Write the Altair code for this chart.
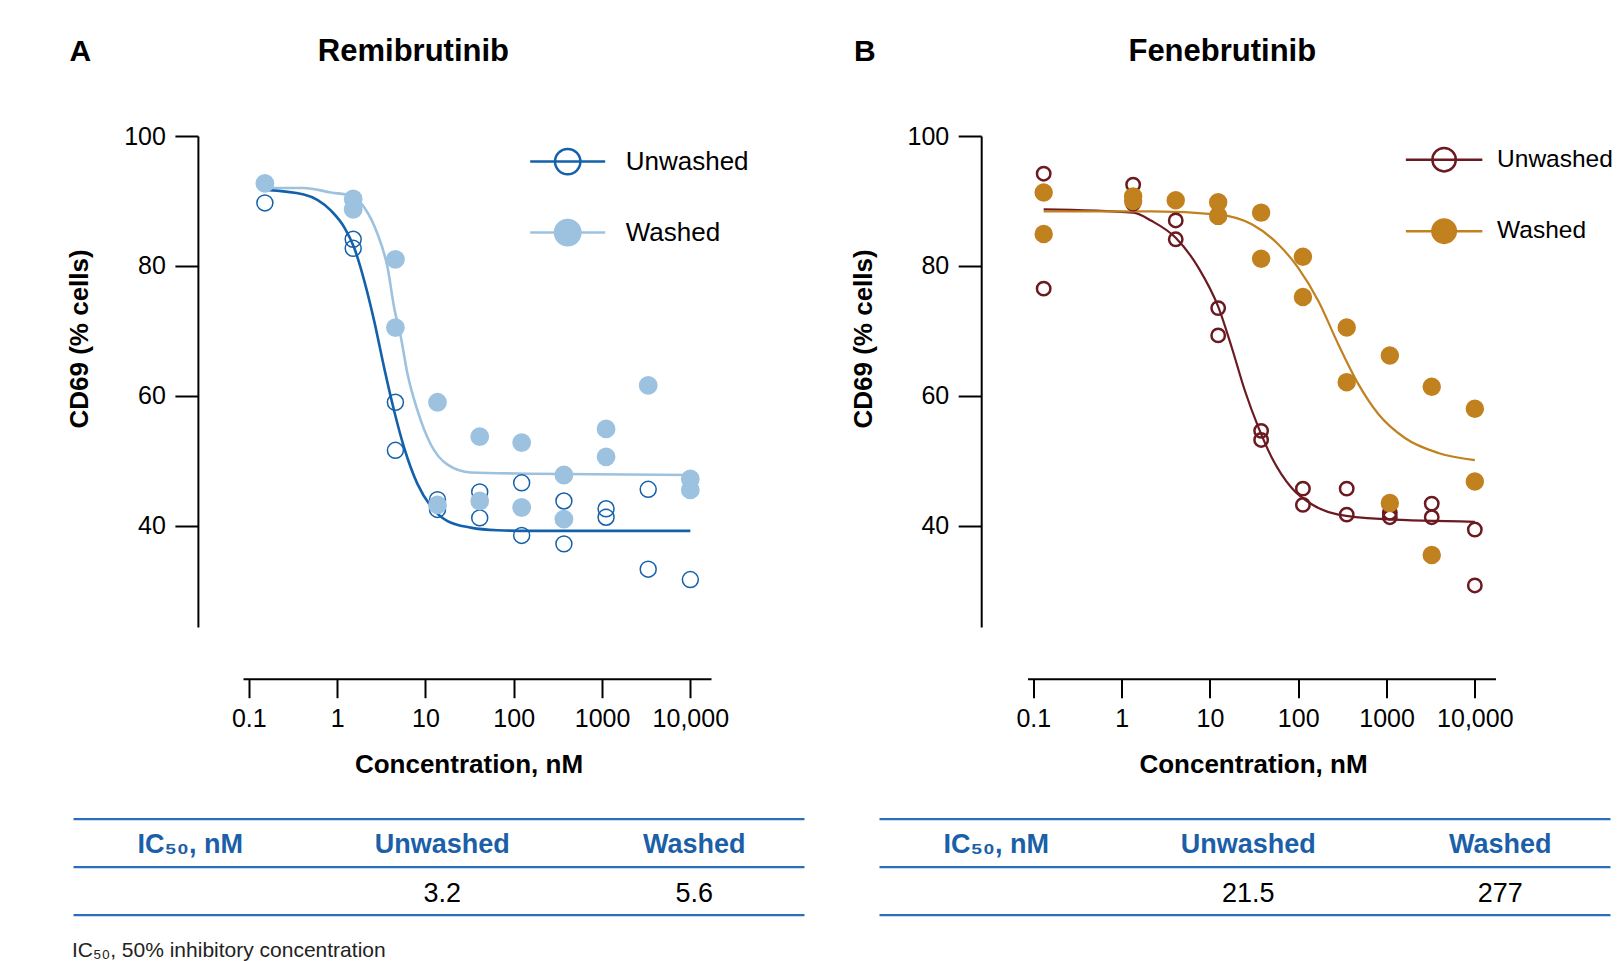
import altair as alt
import pandas as pd

FONT = "Liberation Sans"

# ---------------- Panel A : Remibrutinib ----------------
A_unw_conc = [0.152, 1.52, 1.52, 4.57, 4.57, 13.7, 13.7, 41.2, 41.2, 123, 123, 370, 370, 1111, 1111, 3333, 3333, 10000]
A_unw_val = [89.7, 84.1, 82.7, 59.0, 51.6, 44.0, 42.5, 45.2, 41.2, 46.6, 38.5, 43.8, 37.2, 42.6, 41.3, 45.6, 33.3, 31.7]
A_was_conc = [0.152, 1.52, 1.52, 4.57, 4.57, 13.7, 13.7, 41.2, 41.2, 123, 123, 370, 370, 1111, 1111, 3333, 10000, 10000]
A_was_val = [92.7, 90.3, 88.7, 81.0, 70.5, 59.0, 43.2, 53.7, 43.8, 52.8, 42.8, 47.8, 41.0, 54.9, 50.6, 61.6, 47.2, 45.5]

A_unw_curve_x = [0.152, 0.42, 0.853, 1.21, 1.56, 2.03, 2.63, 3.41, 4.42, 5.74, 8.14, 11.5, 17.8, 32.6, 65.3, 155, 10000]
A_unw_curve_y = [91.7, 91.0, 88.5, 85.9, 82.8, 77.7, 71.5, 64.3, 57.7, 52.0, 46.4, 43.0, 40.7, 39.7, 39.3, 39.2, 39.2]
A_was_curve_x = [0.152, 0.42, 0.853, 1.44, 2.03, 2.87, 3.73, 4.42, 5.27, 6.28, 8.14, 11.5, 17.8, 32.6, 155, 10000]
A_was_curve_y = [92.0, 92.0, 91.3, 90.8, 89.0, 84.9, 79.7, 73.6, 69.0, 63.3, 57.7, 52.5, 49.4, 48.2, 48.0, 47.8]

# ---------------- Panel B : Fenebrutinib ----------------
B_unw_conc = [0.131, 0.131, 1.35, 1.35, 4.1, 4.1, 12.4, 12.4, 38, 38, 113, 113, 354, 354, 1090, 1090, 3250, 3250, 10000, 10000]
B_unw_val = [94.2, 76.5, 92.5, 89.6, 87.0, 84.1, 73.5, 69.3, 54.6, 53.2, 45.7, 43.2, 45.7, 41.7, 42.0, 41.3, 43.4, 41.3, 39.4, 30.8]
B_was_conc = [0.131, 0.131, 1.35, 1.35, 4.1, 12.4, 12.4, 38, 38, 113, 113, 354, 354, 1090, 1090, 3250, 3250, 10000, 10000]
B_was_val = [91.3, 84.9, 90.7, 90.0, 90.1, 89.8, 87.7, 88.2, 81.1, 81.4, 75.2, 70.5, 62.1, 66.2, 43.5, 61.4, 35.5, 58.0, 46.8]

B_unw_curve_x = [0.131, 1.35, 2.2, 4.04, 7.43, 12.5, 17.7, 25.0, 35.5, 50.1, 84.4, 142, 285, 960, 10000]
B_unw_curve_y = [88.7, 88.2, 86.9, 84.4, 79.7, 73.6, 67.4, 60.7, 55.1, 50.5, 45.8, 43.3, 41.7, 41.0, 40.6]
B_was_curve_x = [0.131, 2.2, 12.5, 29.8, 59.7, 100, 169, 285, 480, 807, 1615, 3850, 10000]
B_was_curve_y = [88.4, 88.4, 87.9, 86.4, 83.3, 79.7, 74.6, 67.9, 61.8, 57.2, 53.5, 51.2, 50.1]

series_names = ["Unwashed", "Washed"]
panel_letters = ["A", "B"]
drug_names = ["Remibrutinib", "Fenebrutinib"]
table_headers = ["IC\u2085\u2080, nM", "Unwashed", "Washed"]
A_ic50 = ["3.2", "5.6"]
B_ic50 = ["21.5", "277"]
footnote = ["IC\u2085\u2080, 50% inhibitory concentration"]
x_tick_values = [0.1, 1, 10, 100, 1000, 10000]
x_tick_labels = ["0.1", "1", "10", "100", "1000", "10,000"]
y_tick_values = [40, 60, 80, 100]

TABLE_BLUE = "#1b5fa8"
LINE_BLUE = "#2a70b6"

W, H = 468, 491
X_DOMAIN = [0.0859, 17140]
Y_DOMAIN = [24.4, 100]

label_expr = " : ".join(
    [f"datum.value == {v} ? '{l}'" for v, l in zip(x_tick_values, x_tick_labels)]
) + " : ''"


def panel(letter, name, name_x, unw_c, unw_v, was_c, was_v,
          ucx, ucy, wcx, wcy, colors, sizes, pt_stroke, line_w,
          yoff, leg, table_left, ic50, with_footnote):
    pts_u = pd.DataFrame({"conc": unw_c, "value": unw_v, "series": [series_names[0]] * len(unw_c)})
    pts_w = pd.DataFrame({"conc": was_c, "value": was_v, "series": [series_names[1]] * len(was_c)})
    cur_u = pd.DataFrame({"conc": ucx, "value": ucy})
    cur_w = pd.DataFrame({"conc": wcx, "value": wcy})

    xs = alt.Scale(type="log", domain=X_DOMAIN, nice=False)
    ys = alt.Scale(domain=Y_DOMAIN, nice=False, zero=False)
    xaxis = alt.Axis(values=x_tick_values, labelExpr=label_expr, offset=51.7,
                     tickSize=19, tickWidth=2, tickColor="black", domainColor="black",
                     domainWidth=2, labelFontSize=25, labelFont=FONT, labelColor="black",
                     labelPadding=9, labelFlush=False, labelOverlap=False, grid=False,
                     title="Concentration, nM", titleFont=FONT, titleFontSize=26,
                     titleFontWeight="bold", titleColor="black", titleX=225.5, titleY=85.4,
                     titleBaseline="middle", titleAlign="center")
    yaxis = alt.Axis(values=y_tick_values, offset=yoff, tickSize=23, tickWidth=2,
                     tickColor="black", domainColor="black", domainWidth=2,
                     labelFontSize=25, labelFont=FONT, labelColor="black", labelPadding=9.5,
                     labelFlush=False, labelOverlap=False, grid=False,
                     title="CD69 (% cells)", titleFont=FONT, titleFontSize=26,
                     titleFontWeight="bold", titleColor="black", titleAngle=270,
                     titleX=-118, titleY=202.4, titleBaseline="middle", titleAlign="center")
    sym = (f"M-{leg['half']},0L{leg['half']},0M{leg['r']},0"
           f"A{leg['r']},{leg['r']},0,1,1,-{leg['r']},0"
           f"A{leg['r']},{leg['r']},0,1,1,{leg['r']},0Z")
    legend = alt.Legend(orient="none", legendX=leg["x"], legendY=leg["y"], title=None,
                        symbolType=sym, symbolSize=900, symbolStrokeWidth=2.5,
                        labelFontSize=leg["fs"], labelFont=FONT, labelColor="black",
                        labelOffset=leg["off"], rowPadding=leg["row"], padding=0,
                        labelLimit=400)
    stroke_scale = alt.Scale(domain=series_names, range=colors)
    fill_scale = alt.Scale(domain=series_names, range=["transparent", colors[1]])

    curve_u = alt.Chart(cur_u).mark_line(strokeWidth=line_w, interpolate="monotone", color=colors[0]).encode(
        x=alt.X("conc:Q", scale=xs, axis=xaxis),
        y=alt.Y("value:Q", scale=ys, axis=yaxis),
    )
    curve_w = alt.Chart(cur_w).mark_line(strokeWidth=line_w, interpolate="monotone", color=colors[1]).encode(
        x=alt.X("conc:Q", scale=xs),
        y=alt.Y("value:Q", scale=ys),
    )

    def pts_layer(df, size):
        return alt.Chart(df).mark_point(strokeWidth=pt_stroke, opacity=1, size=size).encode(
            x=alt.X("conc:Q", scale=xs),
            y=alt.Y("value:Q", scale=ys),
            stroke=alt.Stroke("series:N", scale=stroke_scale, legend=legend),
            fill=alt.Fill("series:N", scale=fill_scale, legend=legend),
        )

    plot = alt.layer(curve_u, curve_w, pts_layer(pts_u, sizes[0]), pts_layer(pts_w, sizes[1]))

    # titles
    lab_df = pd.DataFrame({"t": [letter]})
    name_df = pd.DataFrame({"t": [name]})
    letter_mark = alt.Chart(lab_df).mark_text(font=FONT, fontSize=30, fontWeight="bold", align="left",
                                              baseline="alphabetic", color="black").encode(
        text="t:N", x=alt.value(-173.5), y=alt.value(-75.2))
    name_mark = alt.Chart(name_df).mark_text(font=FONT, fontSize=31, fontWeight="bold", align="center",
                                             baseline="alphabetic", color="black").encode(
        text="t:N", x=alt.value(name_x), y=alt.value(-75.2))

    # table
    TL, TR = -0.463, 2.437
    tx = alt.Scale(domain=[TL, TR], range=[table_left, table_left + 731])
    ty = alt.Scale(domain=[0, 2], range=[683.1, 779.1])
    rules_df = pd.DataFrame({"row": [0, 1, 2], "x0": [TL] * 3, "x1": [TR] * 3})
    rules = alt.Chart(rules_df).mark_rule(color=LINE_BLUE, strokeWidth=2.2).encode(
        x=alt.X("x0:Q", scale=tx, axis=None), x2="x1:Q",
        y=alt.Y("row:Q", scale=ty, axis=None))
    head_df = pd.DataFrame({"col": [0, 1, 2], "row": [0.5] * 3, "t": table_headers})
    head = alt.Chart(head_df).mark_text(font=FONT, fontSize=27, fontWeight="bold", color=TABLE_BLUE,
                                        baseline="middle", align="center", dy=2).encode(
        x=alt.X("col:Q", scale=tx, axis=None), y=alt.Y("row:Q", scale=ty, axis=None), text="t:N")
    val_df = pd.DataFrame({"col": [1, 2], "row": [1.5] * 2, "t": ic50})
    vals = alt.Chart(val_df).mark_text(font=FONT, fontSize=27, color="black",
                                       baseline="middle", align="center", dy=3).encode(
        x=alt.X("col:Q", scale=tx, axis=None), y=alt.Y("row:Q", scale=ty, axis=None), text="t:N")
    tbl_layers = [rules, head, vals]
    if with_footnote:
        fn_df = pd.DataFrame({"col": [TL - 0.006], "row": [2.744], "t": footnote})
        fn = alt.Chart(fn_df).mark_text(font=FONT, fontSize=21, color="#222222",
                                        baseline="middle", align="left").encode(
            x=alt.X("col:Q", scale=tx, axis=None), y=alt.Y("row:Q", scale=ty, axis=None), text="t:N")
        tbl_layers.append(fn)
    table = alt.layer(*tbl_layers)

    return alt.layer(plot, table, letter_mark, name_mark).resolve_scale(
        x="independent", y="independent").properties(width=W, height=H)


panelA = panel(panel_letters[0], drug_names[0], 170.4, A_unw_conc, A_unw_val, A_was_conc, A_was_val,
               A_unw_curve_x, A_unw_curve_y, A_was_curve_x, A_was_curve_y,
               ["#1461ab", "#9dc2e0"], [255, 300], 1.5, 2.6, 45.1,
               {"x": 308.2, "y": 9.1, "off": 41.5, "row": 34.0, "half": 2.5, "r": 0.847, "fs": 26},
               -169.5, A_ic50, True)
panelB = panel(panel_letters[1], drug_names[1], 194.8, B_unw_conc, B_unw_val, B_was_conc, B_was_val,
               B_unw_curve_x, B_unw_curve_y, B_was_curve_x, B_was_curve_y,
               ["#6b1a21", "#c1811f"], [180, 255], 2.5, 2.2, 46.3,
               {"x": 400.1, "y": 7.2, "off": 36.5, "row": 36.5, "half": 2.55, "r": 0.78, "fs": 24.5},
               -148.0, B_ic50, False)

chart = alt.hconcat(panelA, panelB, spacing=316.5, bounds="flush").resolve_scale(
    stroke="independent", fill="independent"
).resolve_legend(
    stroke="independent", fill="independent"
).properties(
    padding={"left": 58, "top": 27, "right": 1, "bottom": 0},
    background="white",
).configure(font=FONT).configure_view(stroke=None, strokeWidth=0)

chart.save("out.html", embed_options={"renderer": "svg", "actions": False})
